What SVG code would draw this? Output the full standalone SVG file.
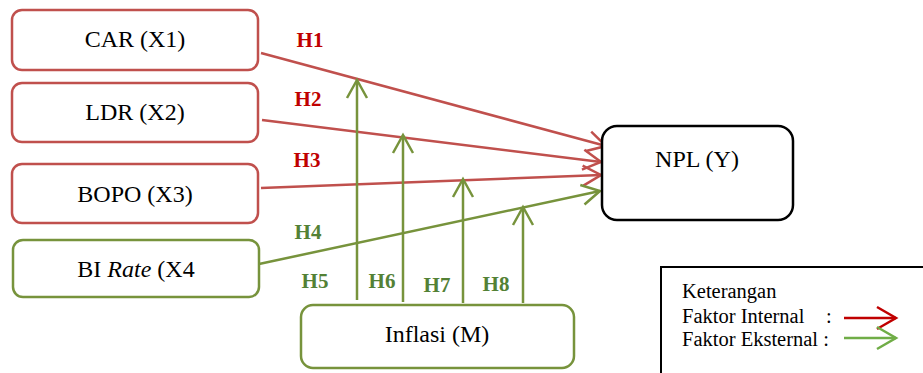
<svg xmlns="http://www.w3.org/2000/svg" width="923" height="373" viewBox="0 0 923 373">
<style>
.box{fill:#fff;stroke-width:2.5}
.red{stroke:#C0504D}
.grn{stroke:#77933C}
.t{font-family:"Liberation Serif","Times New Roman",serif;font-size:24px;fill:#000;text-anchor:middle}
.lab{font-family:"Liberation Serif","Times New Roman",serif;font-size:21px;font-weight:bold;text-anchor:middle}
.lr{fill:#C00000}
.lg{fill:#538135}
.c{fill:none;stroke-width:2.5}
.leg{font-family:"Liberation Serif","Times New Roman",serif;font-size:20.5px;fill:#000}
</style>
<defs>
<marker id="ar" viewBox="-22 -13 25 26" refX="0" refY="0" markerWidth="25" markerHeight="26" markerUnits="userSpaceOnUse" orient="auto">
<path d="M-18,-10 L0,0 L-18,10" fill="none" stroke="#C0504D" stroke-width="2.5"/>
</marker>
<marker id="ag" viewBox="-22 -13 25 26" refX="0" refY="0" markerWidth="25" markerHeight="26" markerUnits="userSpaceOnUse" orient="auto">
<path d="M-18,-10 L0,0 L-18,10" fill="none" stroke="#77933C" stroke-width="2.5"/>
</marker>
<marker id="alr" viewBox="-22 -13 25 26" refX="0" refY="0" markerWidth="25" markerHeight="26" markerUnits="userSpaceOnUse" orient="auto">
<path d="M-19,-11 L0,0 L-19,11" fill="none" stroke="#C00000" stroke-width="2.5"/>
</marker>
<marker id="alg" viewBox="-22 -13 25 26" refX="0" refY="0" markerWidth="25" markerHeight="26" markerUnits="userSpaceOnUse" orient="auto">
<path d="M-19,-11 L0,0 L-19,11" fill="none" stroke="#70AD47" stroke-width="2.5"/>
</marker>
</defs>

<g id="connectors">
<line class="c red" x1="261" y1="53" x2="606" y2="146" marker-end="url(#ar)"/>
<line class="c red" x1="262" y1="120" x2="601" y2="162" marker-end="url(#ar)"/>
<line class="c red" x1="261" y1="188" x2="601" y2="175" marker-end="url(#ar)"/>
<line class="c grn" x1="259" y1="264" x2="600" y2="191" marker-end="url(#ag)"/>
<line class="c grn" x1="357" y1="300" x2="357" y2="80" marker-end="url(#ag)"/>
<line class="c grn" x1="403" y1="302" x2="403" y2="135" marker-end="url(#ag)"/>
<line class="c grn" x1="463" y1="303" x2="463" y2="179" marker-end="url(#ag)"/>
<line class="c grn" x1="523" y1="303" x2="523" y2="207" marker-end="url(#ag)"/>
</g>

<g id="labels">
<text class="lab lr" x="310" y="47">H1</text>
<text class="lab lr" x="308" y="106">H2</text>
<text class="lab lr" x="307" y="167">H3</text>
<text class="lab lg" x="308" y="239">H4</text>
<text class="lab lg" x="315" y="288">H5</text>
<text class="lab lg" x="382" y="288">H6</text>
<text class="lab lg" x="437" y="292">H7</text>
<text class="lab lg" x="496" y="291">H8</text>
</g>

<g id="car">
<rect class="box red" x="12" y="10" width="246" height="60" rx="10"/>
<text class="t" x="135" y="47">CAR (X1)</text>
</g>
<g id="ldr">
<rect class="box red" x="12" y="83" width="246" height="59" rx="10"/>
<text class="t" x="135" y="120">LDR (X2)</text>
</g>
<g id="bopo">
<rect class="box red" x="12" y="164" width="246" height="59" rx="10"/>
<text class="t" x="135" y="202">BOPO (X3)</text>
</g>
<g id="birate">
<rect class="box grn" x="13" y="240" width="246" height="57" rx="10"/>
<text class="t" x="136" y="277">BI <tspan font-style="italic">Rate</tspan> (X4</text>
</g>
<g id="npl">
<rect x="602" y="126" width="191" height="94" rx="15" fill="#fff" stroke="#000" stroke-width="2.5"/>
<text class="t" x="697" y="167">NPL (Y)</text>
</g>
<g id="inflasi">
<rect class="box grn" x="301" y="305" width="273" height="63" rx="12"/>
<text class="t" x="437" y="342">Inflasi (M)</text>
</g>

<g id="legend">
<rect x="661" y="267" width="280" height="120" fill="#fff" stroke="#000" stroke-width="2"/>
<text class="leg" x="682" y="298">Keterangan</text>
<text class="leg" x="682" y="323">Faktor Internal</text>
<text class="leg" x="826" y="323">:</text>
<text class="leg" x="682" y="346">Faktor Eksternal :</text>
<line class="c" stroke="#C00000" x1="844" y1="318" x2="896" y2="318" marker-end="url(#alr)"/>
<line class="c" stroke="#70AD47" x1="844" y1="338" x2="896" y2="338" marker-end="url(#alg)"/>
</g>
</svg>
